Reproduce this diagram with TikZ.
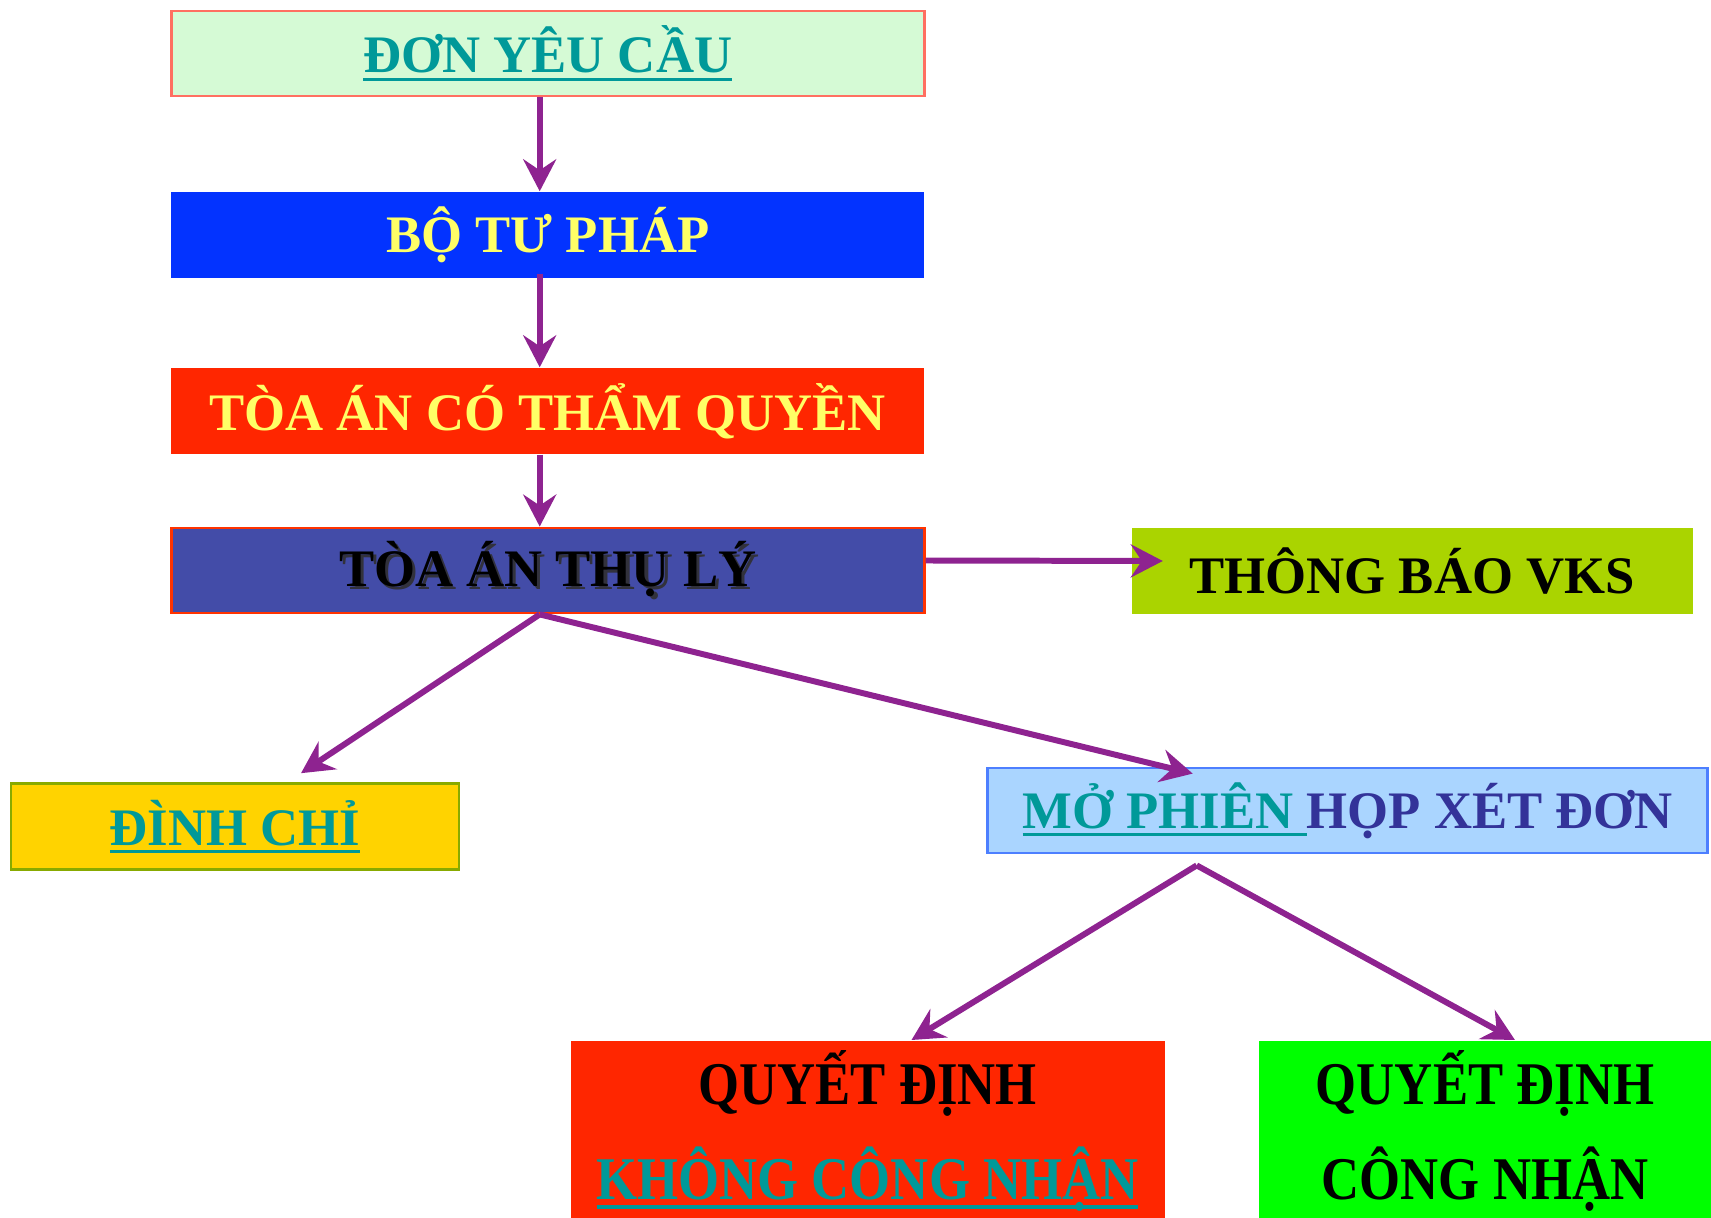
\documentclass[tikz,border=0pt]{standalone}
\usepackage{fontspec}
\setmainfont{Liberation Serif}
\usetikzlibrary{arrows.meta,positioning}
\definecolor{flowteal}  {RGB}{0,153,153}
\definecolor{flowyellow}{RGB}{255,255,102}
\definecolor{flowpurple}{RGB}{142,35,144}
\definecolor{flowmint}  {RGB}{213,250,213}
\definecolor{flowsalmon}{RGB}{255,111,97}
\definecolor{flowblue}  {RGB}{3,51,255}
\definecolor{flowred}   {RGB}{255,38,0}
\definecolor{flowindigo}{RGB}{67,76,168}
\definecolor{flowedge}  {RGB}{255,51,0}
\definecolor{flowlime}  {RGB}{170,212,0}
\definecolor{flowgold}  {RGB}{255,211,0}
\definecolor{flowolive} {RGB}{136,170,0}
\definecolor{flowsky}   {RGB}{170,213,255}
\definecolor{flowsteel} {RGB}{77,127,255}
\definecolor{flownavy}  {RGB}{51,51,153}
\definecolor{flowgreen} {RGB}{0,255,0}
\definecolor{flowshade} {RGB}{50,50,60}
\newcommand\flowfont{\fontsize{15}{27}\selectfont}
\newcommand\ultext[1]{\setbox0\hbox{#1}\rlap{\raisebox{-2.3pt}{\rule{\wd0}{0.9pt}}}\box0}
\newcommand\shadowtext[1]{\rlap{\hspace{0.9pt}\raisebox{-0.9pt}{\color{flowshade}#1}}#1}
\newcommand\tallline[1]{\scalebox{1}[1.15]{#1}}
\tikzset{
  box/.style={rectangle,fill=#1,inner sep=0pt,
              font=\flowfont\bfseries,align=center},
  wide/.style={minimum width=75.3mm,minimum height=8.6mm},
  arr/.style={-{Stealth[length=3.2mm,width=3.3mm,inset=1.1mm]},
              line width=1.7pt,flowpurple},
}

\begin{document}
\begin{tikzpicture}[x=0.1mm,y=-0.1mm]
  \useasboundingbox (0,0) rectangle (1711,1218);
  \clip (0,0) rectangle (1711,1218);
  \node[box=flowmint,wide,minimum height=8.5mm,draw=flowsalmon,line width=0.8pt,
        text=flowteal] (don) at (547.7,53.5) {\ultext{ĐƠN YÊU CẦU}};
  \node[box=flowblue,wide,text=flowyellow] (botuphap) at (547.7,235) {BỘ TƯ PHÁP};
  \node[box=flowred,wide,text=flowyellow] (toaan) at (547.7,411)
        {TÒA ÁN CÓ THẨM QUYỀN};
  \node[box=flowindigo,wide,minimum height=8.5mm,draw=flowedge,line width=0.8pt,
        text=black] (thuly) at (547.7,570.5) {\shadowtext{TÒA ÁN THỤ LÝ}};
  \node[box=flowlime,minimum width=56.1mm,minimum height=8.6mm,text=black]
        (vks) at (1412,571) {THÔNG BÁO VKS};
  \node[box=flowgold,minimum width=44.8mm,minimum height=8.6mm,draw=flowolive,
        line width=0.8pt,text=flowteal] (dinhchi) at (235,826.6) {\ultext{ĐÌNH CHỈ}};
  \node[box=flowsky,minimum width=72mm,minimum height=8.5mm,draw=flowsteel,
        line width=0.8pt] (phienhop) at (1347.7,810.5)
        {{\color{flowteal}\ultext{MỞ PHIÊN }}{\color{flownavy}HỌP XÉT ĐƠN}};
  \node[box=flowred,minimum width=59.4mm,minimum height=18.1mm,anchor=north]
        (khongcn) at (867.5,1040)
        {\tallline{QUYẾT ĐỊNH}\\
         \tallline{\color{flowteal}\ultext{KHÔNG CÔNG NHẬN}}};
  \node[box=flowgreen,minimum width=45.2mm,minimum height=18.1mm,anchor=north]
        (congnhan) at (1485,1040)
        {\tallline{QUYẾT ĐỊNH}\\ \tallline{CÔNG NHẬN}};

  \coordinate (fork) at ([xshift=-0.8mm]thuly.south);
  \coordinate (hopfork) at ([xshift=-15.1mm,yshift=-1.1mm]phienhop.south);

  \draw[arr] ([xshift=-0.8mm]don.south) -- ([xshift=-0.8mm]botuphap.north);
  \draw[arr] ([xshift=-0.8mm,yshift=0.5mm]botuphap.south)
          -- ([xshift=-0.8mm]toaan.north);
  \draw[arr] ([xshift=-0.8mm]toaan.south) -- ([xshift=-0.8mm]thuly.north);
  \draw[arr] ([yshift=1mm]thuly.east) -- ([xshift=3.2mm,yshift=1mm]vks.west);
  \draw[arr] (fork) -- ([xshift=6.6mm,yshift=0.9mm]dinhchi.north);
  \draw[arr] (fork) -- ([xshift=-15.5mm,yshift=-0.7mm]phienhop.north);
  \draw[arr] (hopfork) -- ([xshift=4.4mm]khongcn.north);
  \draw[arr] (hopfork) -- ([xshift=3mm]congnhan.north);
\end{tikzpicture}
\end{document}
